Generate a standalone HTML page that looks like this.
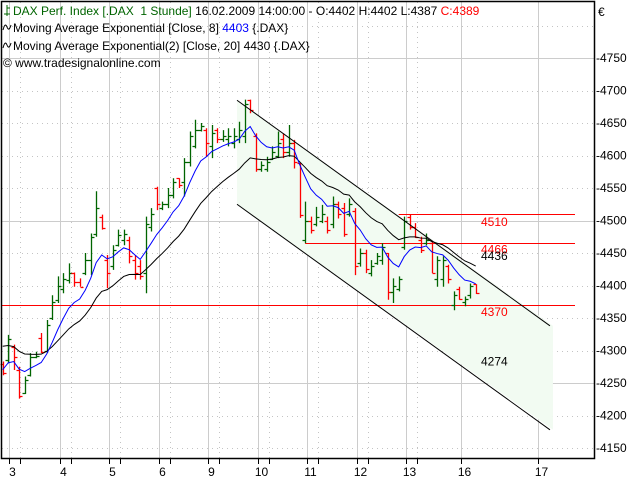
<!DOCTYPE html>
<html><head><meta charset="utf-8">
<style>
html,body{margin:0;padding:0;background:#fff;}
svg{display:block;font-family:"Liberation Sans",sans-serif;}
</style></head>
<body>
<svg id="chart" width="640" height="480" viewBox="0 0 640 480" xmlns="http://www.w3.org/2000/svg">
<g id="grid"></g>
<polygon id="channel-fill" fill="#f2fbf2" stroke="none"/>
<g id="hlines"></g>
<g id="bars"></g>
<polyline id="ema20" fill="none" stroke="#000" stroke-width="1"/>
<polyline id="ema8" fill="none" stroke="#0000ff" stroke-width="1"/>
<g id="trend"></g>
<g id="labels"></g>
<rect x="1.5" y="1.5" width="593" height="457" fill="none" stroke="#000" stroke-width="1.5"/>
<g id="yaxis"></g>
<g id="xaxis"></g>
<text x="598" y="16" font-size="12">€</text>
<g font-size="12">
  <path d="M4 14 L10 14 M7 5 L7 16 M7 8 L10 8" stroke="#006400" fill="none"/>
  <text x="13" y="15" xml:space="preserve"><tspan fill="#006400">DAX Perf. Index [.DAX  1 Stunde]</tspan><tspan fill="#000"> 16.02.2009 14:00:00 - O:4402 H:4402 L:4387 </tspan><tspan fill="#ff0000">C:4389</tspan></text>
  <path d="M3 30 Q5 22 7 27 Q9 32 11 25" stroke="#000" fill="none"/>
  <text x="13" y="32">Moving Average Exponential [Close, 8] <tspan fill="#0000ff">4403</tspan> {.DAX}</text>
  <path d="M3 48 Q5 40 7 45 Q9 50 11 43" stroke="#000" fill="none"/>
  <text x="13" y="50">Moving Average Exponential(2) [Close, 20] 4430 {.DAX}</text>
  <text x="3" y="67">© www.tradesignalonline.com</text>
</g>
</svg>
<script>
const highs=[4283,4324,4309,4275,4260,4296,4298,4327,4347,4385,4414,4419,4434,4420,4411,4450,4480,4545,4509,4447,4462,4486,4486,4475,4447,4439,4506,4519,4552,4529,4550,4565,4565,4596,4637,4655,4650,4642,4647,4642,4639,4642,4642,4652,4686,4686,4634,4591,4598,4614,4637,4634,4647,4624,4588,4529,4506,4521,4524,4506,4537,4529,4527,4534,4519,4457,4455,4439,4450,4465,4450,4411,4414,4506,4509,4496,4475,4480,4468,4445,4445,4432,4391,4398,4383,4403,4402];
const lows=[4262,4280,4270,4226,4233,4260,4288,4296,4296,4347,4373,4388,4403,4398,4398,4416,4416,4475,4486,4396,4424,4460,4462,4434,4409,4409,4388,4483,4516,4516,4519,4534,4550,4537,4583,4611,4637,4598,4596,4619,4621,4614,4611,4619,4619,4665,4575,4575,4575,4593,4596,4596,4598,4580,4504,4465,4480,4491,4496,4480,4488,4503,4475,4506,4416,4429,4419,4414,4432,4432,4378,4373,4391,4455,4486,4473,4450,4462,4419,4398,4398,4403,4362,4378,4368,4380,4387];
const opens=[4280,4285,4305,4270,4235,4262,4290,4320,4300,4350,4378,4395,4408,4420,4405,4420,4440,4480,4505,4440,4430,4462,4470,4470,4440,4430,4420,4490,4550,4520,4525,4540,4565,4560,4590,4615,4640,4640,4615,4640,4625,4625,4620,4625,4630,4685,4630,4580,4580,4595,4600,4625,4605,4620,4588,4470,4500,4495,4500,4500,4495,4525,4520,4510,4515,4435,4450,4420,4435,4440,4450,4390,4395,4460,4505,4490,4470,4465,4465,4410,4410,4430,4370,4395,4375,4385,4402];
const closes=[4265,4318,4290,4230,4255,4290,4292,4298,4340,4375,4400,4410,4420,4405,4398,4440,4475,4520,4488,4420,4455,4478,4480,4445,4420,4415,4495,4510,4525,4525,4540,4560,4555,4590,4630,4640,4645,4620,4635,4625,4630,4630,4630,4640,4680,4670,4580,4585,4590,4605,4620,4605,4620,4590,4508,4500,4485,4505,4510,4485,4525,4510,4480,4525,4430,4450,4425,4430,4445,4460,4390,4400,4410,4500,4490,4475,4455,4470,4420,4440,4440,4410,4385,4380,4380,4400,4389];
const emaSeeds=[4272,4311];
const yTicks=[4750,4700,4650,4600,4550,4500,4450,4400,4350,4300,4250,4200,4150];
const dayLabels=["3","4","5","6","9","10","11","12","13","16","17"];
const dayStartBar=[1,10,19,28,37,46,55,64,73,83,97];
const levels=[4510,4466,4370];
const channelUpper=[[42.6,4685],[99.5,4338]];
const channelLower=[[42.6,4525],[99.5,4178]];
const labelVals=[4510,4466,4436,4370,4274];
const ns="http://www.w3.org/2000/svg";
function X(i){return 2.7+5.5*i;}
function Y(v){return 58+(4750-v)*0.65;}
function el(tag,attrs,parent){const e=document.createElementNS(ns,tag);for(const k in attrs)e.setAttribute(k,attrs[k]);parent.appendChild(e);return e;}
const grid=document.getElementById('grid');
[4800].concat(yTicks).forEach(v=>{
  const solid=(v===4750||v===4500||v===4250);
  const l=el('line',{x1:2,x2:594,y1:Math.round(Y(v))+0.5,y2:Math.round(Y(v))+0.5,stroke:solid?'#cccccc':'#c4c4c4','stroke-width':1,'stroke-dasharray':solid?'none':'1,4'},grid);
  
  
});
const ya=document.getElementById('yaxis');
yTicks.forEach(v=>{
  const y=Y(v);
  const t=el('text',{x:596,y:y+4,'font-size':12,fill:'#000'},ya);
  t.textContent='-'+v;
  
  
});
const xa=document.getElementById('xaxis');
dayLabels.forEach((d,k)=>{
  const bx=dayStartBar[k]===1?9:X(dayStartBar[k])+2;
  const gx=Math.round(bx)+0.5;
  const l=el('line',{x1:gx,x2:gx,y1:2,y2:458,stroke:'#cccccc','stroke-width':1},grid);
  
  
  if(k<dayLabels.length-2){
    const d2=el('line',{x1:gx+11,x2:gx+11,y1:2,y2:458,stroke:'#c4c4c4','stroke-dasharray':'1,4'},grid);
    
    
    const tk2=el('line',{x1:gx+11,x2:gx+11,y1:459,y2:464,stroke:'#000'},xa);
    
    
  }
  const tk=el('line',{x1:gx,x2:gx,y1:459,y2:464,stroke:'#000'},xa);
  
  
  const t=el('text',{x:gx+3,y:476,'font-size':12,'text-anchor':'middle'},xa);
  t.textContent=d;
  
  
});
const u0=channelUpper[0],u1=channelUpper[1],l0=channelLower[0],l1=channelLower[1];
document.getElementById('channel-fill').setAttribute('points',[[X(u0[0]),Y(u0[1])],[X(u1[0])+3,Y(u1[1])],[X(l1[0])+3,Y(l1[1])],[X(l0[0]),Y(l0[1])]].map(p=>p.join(',')).join(' '));
const tr=document.getElementById('trend');
[channelUpper,channelLower].forEach(c=>{
  const l=el('line',{x1:X(c[0][0]),y1:Y(c[0][1]),x2:X(c[1][0]),y2:Y(c[1][1]),stroke:'#000','stroke-width':1},tr);
  
  
});
const hl=document.getElementById('hlines');
const levelStart=[72,55,0];
levels.forEach((v,k)=>{
  const y=Math.round(Y(v))+0.5;
  const l=el('line',{x1:levelStart[k]===0?2:X(levelStart[k]),x2:575,y1:y,y2:y,stroke:'#ff0000','stroke-width':1},hl);
  
  
});
const bg=document.getElementById('bars');
for(let i=0;i<highs.length;i++){
  const x=Math.round(X(i))+0.5;
  const c=closes[i]>=opens[i]?'#006400':'#ff0000';
  const p=el('path',{d:`M${x} ${Y(highs[i])} L${x} ${Y(lows[i])} M${x-3} ${Math.round(Y(opens[i]))+0.5} L${x} ${Math.round(Y(opens[i]))+0.5} M${x} ${Math.round(Y(closes[i]))+0.5} L${x+3} ${Math.round(Y(closes[i]))+0.5}`,stroke:c,'stroke-width':1.3,fill:'none'},bg);
  
  
}
function ema(n,seed){let e=seed;const out=[];const a=2/(n+1);closes.forEach(c=>{e=e+a*(c-e);out.push(e);});return out;}
const e8=ema(8,emaSeeds[0]),e20=ema(20,emaSeeds[1]);
document.getElementById('ema8').setAttribute('points',e8.map((v,i)=>X(i)+','+Y(v)).join(' '));
document.getElementById('ema20').setAttribute('points',e20.map((v,i)=>X(i)+','+Y(v)).join(' '));
const lb=document.getElementById('labels');
const labelCols=['#ff0000','#ff0000','#000','#ff0000','#000'];
const labelDy=[12,11,-2,11,-2];
labelVals.forEach((v,k)=>{
  const t=el('text',{x:481,y:Y(v)+labelDy[k],'font-size':12,fill:labelCols[k]},lb);
  t.textContent=String(v);
  
  
});
</script>
</body></html>
